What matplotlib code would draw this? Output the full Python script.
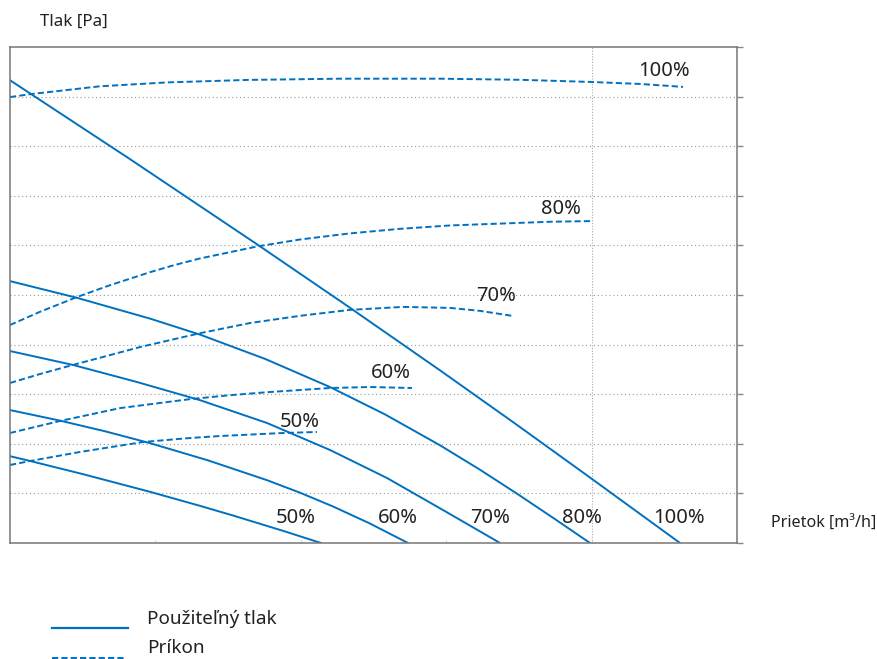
import matplotlib.pyplot as plt
from matplotlib.lines import Line2D

# fan speed levels
levels = ["50%", "60%", "70%", "80%", "100%"]

# usable pressure (solid)
p50_x = [0, 0.138, 0.502, 0.963, 1.307, 1.534, 1.878, 2.139]
p50_y = [1.75, 1.654, 1.388, 1.032, 0.749, 0.554, 0.245, 0]
p60_x = [0, 0.344, 0.653, 0.963, 1.362, 1.768, 1.994, 2.221, 2.476, 2.737]
p60_y = [2.68, 2.467, 2.253, 2.013, 1.666, 1.266, 1.015, 0.737, 0.392, 0]
p70_x = [0, 0.433, 0.873, 1.307, 1.768, 2.201, 2.593, 2.957, 3.164, 3.37]
p70_y = [3.87, 3.59, 3.246, 2.88, 2.419, 1.875, 1.31, 0.70, 0.35, 0]
p80_x = [0, 0.461, 0.963, 1.307, 1.754, 2.201, 2.579, 2.957, 3.232, 3.487, 3.748, 3.989]
p80_y = [5.28, 4.943, 4.524, 4.201, 3.712, 3.144, 2.593, 1.971, 1.478, 0.994, 0.482, 0]
p100_x = [0, 0.825, 1.705, 2.30, 2.958, 3.473, 3.989, 4.608]
p100_y = [9.33, 7.74, 6.01, 4.82, 3.48, 2.41, 1.32, 0]

# power input (dashed)
w50_x = [0, 0.138, 0.481, 0.915, 1.238, 1.444, 1.878, 2.111]
w50_y = [1.573, 1.653, 1.835, 2.036, 2.117, 2.157, 2.218, 2.238]
w60_x = [0, 0.344, 0.757, 1.238, 1.513, 1.768, 2.201, 2.476, 2.765]
w60_y = [2.218, 2.46, 2.72, 2.90, 2.98, 3.04, 3.125, 3.145, 3.125]
w70_x = [0, 0.206, 0.433, 0.894, 1.307, 1.651, 1.994, 2.338, 2.703, 3.026, 3.233, 3.453]
w70_y = [3.226, 3.407, 3.59, 3.95, 4.23, 4.435, 4.58, 4.70, 4.76, 4.74, 4.68, 4.58]
w80_x = [0, 0.206, 0.461, 0.688, 0.963, 1.135, 1.307, 1.706, 1.994, 2.338, 2.682, 3.026, 3.714, 3.996]
w80_y = [4.395, 4.661, 4.959, 5.198, 5.46, 5.607, 5.737, 5.982, 6.119, 6.242, 6.334, 6.402, 6.477, 6.49]
w100_x = [0, 0.138, 0.619, 1.08, 1.63, 2.27, 2.957, 3.507, 3.989, 4.333, 4.629]
w100_y = [8.99, 9.049, 9.208, 9.286, 9.336, 9.361, 9.361, 9.339, 9.296, 9.255, 9.196]

pressure = [(p50_x, p50_y), (p60_x, p60_y), (p70_x, p70_y), (p80_x, p80_y), (p100_x, p100_y)]
power = [(w50_x, w50_y), (w60_x, w60_y), (w70_x, w70_y), (w80_x, w80_y), (w100_x, w100_y)]

# label spots
bottom_lbl_x = [1.966, 2.667, 3.302, 3.934, 4.601]
bottom_lbl_y = 0.5
top_lbl_x = [1.99, 2.617, 3.343, 3.79, 4.495]
top_lbl_y = [2.44, 3.43, 4.98, 6.73, 9.52]

blue = "#0070c0"
txt = "#222222"
plt.rcParams["font.family"] = ["Noto Sans", "DejaVu Sans"]

fig = plt.figure(figsize=(8.78, 6.59), dpi=100)
ax = fig.add_axes([10 / 878, 116 / 659, 727 / 878, 496 / 659])

for x, y in pressure:
    ax.plot(x, y, color=blue, lw=1.4, solid_joinstyle="round")
for x, y in power:
    ax.plot(x, y, color=blue, lw=1.4, ls=(0, (3.2, 1.6)))

for lx, lab in zip(bottom_lbl_x, levels):
    ax.text(lx, bottom_lbl_y, lab, ha="center", va="center", fontsize=14.5, color=txt)
for lx, ly, lab in zip(top_lbl_x, top_lbl_y, levels):
    ax.text(lx, ly, lab, ha="center", va="center", fontsize=14.5, color=txt)

ax.set_xlim(0, 5)
ax.set_ylim(0, 10)
ax.set_yticks(range(11))
ax.set_xticks([1, 2, 3, 4])
ax.yaxis.tick_right()
ax.tick_params(axis="y", direction="out", length=4.5, width=1, color="#888888", labelright=False)
ax.tick_params(axis="x", direction="in", length=2, width=0.6, color="#cccccc", labelbottom=False)
for y in range(1, 10):
    ax.axhline(y, color="#999999", lw=0.8, ls=(0, (1, 2.5)), zorder=0)
ax.axvline(4, color="#aaaaaa", lw=0.8, ls=(0, (1, 1.5)), zorder=0)
for s in ax.spines.values():
    s.set_color("#777777")
    s.set_linewidth(1.1)

fig.text(40 / 878, 1 - 22 / 659, "Tlak [Pa]", fontsize=12.2, color=txt, va="center", ha="left")
fig.text(771 / 878, 1 - 524 / 659, "Prietok [m³/h]", fontsize=11.6, color=txt, va="center", ha="left")

# legend drawn by hand
fig.add_artist(Line2D([52 / 878, 128 / 878], [1 - 628 / 659] * 2, color=blue, lw=1.6))
fig.add_artist(Line2D([52 / 878, 126 / 878], [1 - 658 / 659] * 2, color=blue, lw=1.4, ls=(0, (3.2, 1.6))))
fig.text(147 / 878, 1 - 619 / 659, "Použiteľný tlak", fontsize=13.6, color=txt, va="center", ha="left")
fig.text(147 / 878, 1 - 648 / 659, "Príkon", fontsize=13.6, color=txt, va="center", ha="left")

fig.savefig("out.png", dpi=100)
